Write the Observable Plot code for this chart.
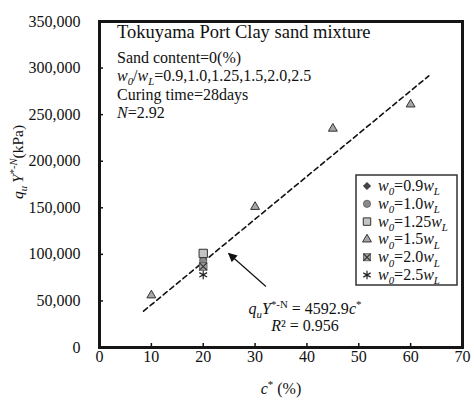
<!DOCTYPE html>
<html>
<head>
<meta charset="utf-8">
<script src="https://cdn.jsdelivr.net/npm/d3@7"></script>
<script src="https://cdn.jsdelivr.net/npm/@observablehq/plot@0.6"></script>
<style>
  html, body { margin: 0; padding: 0; background: #fff; }
  #chart svg { display: block; }
  #chart svg text { font-family: "Liberation Serif", "Times New Roman", serif; }
</style>
</head>
<body>
<div id="chart"></div>
<script>
// ---- data ----
const xTicks = [0, 10, 20, 30, 40, 50, 60, 70];
const yTicks = [0, 50000, 100000, 150000, 200000, 250000, 300000, 350000];

const seriesLabels = ["0.9", "1.0", "1.25", "1.5", "2.0", "2.5"];
const c09 = [20],  q09 = [95000];
const c10 = [20],  q10 = [93000];
const c125 = [20], q125 = [101000];
const c15 = [10, 30, 45, 60], q15 = [56000, 151000, 235000, 261000];
const c20 = [20],  q20 = [87000];
const c25 = [20],  q25 = [78000];

const fitSlope = 4592.9;          // q_u Y*-N = 4592.9 c*
const fitRange = [8.5, 63.5];     // extent of the dashed fit line (c*)
const arrowFrom = [32.1, 65500];
const arrowTo = [24.9, 101000];

const FONT = "'Liberation Serif', 'Times New Roman', serif";

// ---- build tables ----
const pts = (xs, ys) => xs.map((x, i) => ({x, y: ys[i]}));
const fitLine = fitRange.map(x => ({x, y: fitSlope * x}));

const W = 474, H = 401;
const mL = 99, mR = 12, mT = 21, mB = 54;
const pxX = (W - mL - mR) / (xTicks[xTicks.length - 1] - xTicks[0]);
const pxY = (H - mT - mB) / (yTicks[yTicks.length - 1] - yTicks[0]);
const tickLen = 4;

const chart = Plot.plot({
  width: W, height: H,
  marginLeft: mL, marginRight: mR, marginTop: mT, marginBottom: mB,
  x: {domain: [0, 70]},
  y: {domain: [0, 350000]},
  style: `font-family: ${FONT}; font-size: 16px; background: #fff; color: #111;`,
  marks: [
    Plot.axisX(xTicks, {tickSize: 0, tickPadding: 3, label: null, fontSize: 16, fontFamily: FONT, fill: "#111"}),
    Plot.axisY(yTicks, {tickSize: 0, tickPadding: 19, label: null, fontSize: 16, fontFamily: FONT, fill: "#111", tickFormat: d3.format(",")}),
    Plot.ruleX(xTicks.slice(1, -1), {x: d => d, y1: 0, y2: tickLen / pxY, stroke: "#111", strokeWidth: 1.5}),
    Plot.ruleY(yTicks.slice(1, -1), {y: d => d, x1: 0, x2: tickLen / pxX, stroke: "#111", strokeWidth: 1.5}),
    Plot.line(fitLine, {x: "x", y: "y", stroke: "#111", strokeWidth: 1.6, strokeDasharray: "5,3.5"}),
    Plot.link([{x1: arrowFrom[0], y1: arrowFrom[1], x2: arrowTo[0], y2: arrowTo[1]}],
      {x1: "x1", y1: "y1", x2: "x2", y2: "y2", stroke: "#111", strokeWidth: 1.2, ariaLabel: "annot-arrow"}),
    Plot.dot(pts(c09, q09), {x: "x", y: "y", symbol: "diamond2", r: 3.2, fill: "#444", stroke: "#222", strokeWidth: 0.8}),
    Plot.dot(pts(c10, q10), {x: "x", y: "y", symbol: "circle", r: 3.6, fill: "#8a8a8a", stroke: "#555", strokeWidth: 0.8}),
    Plot.dot(pts(c125, q125), {x: "x", y: "y", symbol: "square", r: 4.7, fill: "#c4c4c4", stroke: "#333", strokeWidth: 1}),
    Plot.dot(pts(c15, q15), {x: "x", y: "y", symbol: "triangle", r: 3.3, fill: "#a6a6a6", stroke: "#333", strokeWidth: 1}),
    Plot.dot(pts(c20, q20), {x: "x", y: "y", symbol: "square", r: 4.3, fill: "#a0a0a0", stroke: "#555", strokeWidth: 0.8}),
    Plot.dot(pts(c20, q20), {x: "x", y: "y", symbol: "times", r: 3.6, stroke: "#333", strokeWidth: 1.2}),
    Plot.dot(pts(c25, q25), {x: "x", y: "y", symbol: "asterisk", r: 4.2, stroke: "#222", strokeWidth: 1.2}),
    Plot.frame({stroke: "#151515", strokeWidth: 3})
  ]
});
document.getElementById("chart").appendChild(chart);

const svg = d3.select(chart);
svg.attr("font-family", FONT);

// filled arrowhead on the annotation arrow
const defs = svg.append("defs");
defs.append("marker").attr("id", "ahead").attr("viewBox", "0 0 10 10")
  .attr("refX", 9).attr("refY", 5).attr("markerWidth", 10).attr("markerHeight", 9)
  .attr("markerUnits", "userSpaceOnUse").attr("orient", "auto")
  .append("path").attr("d", "M0,0L10,5L0,10Z").attr("fill", "#111");
svg.selectAll("g[aria-label='annot-arrow'] path, g[aria-label='link'] path").attr("marker-end", "url(#ahead)");

// rich text helper
function rich(x, y, parts, {size = 16, anchor = "start", rotate = 0} = {}) {
  const t = svg.append("text").attr("font-family", FONT).attr("font-size", size)
    .attr("text-anchor", anchor).attr("fill", "#111");
  if (rotate) t.attr("transform", `translate(${x},${y}) rotate(${rotate})`);
  else t.attr("x", x).attr("y", y);
  let shift = 0;
  for (const [txt, f = ""] of parts) {
    const s = t.append("tspan").text(txt);
    const flags = f.split(" ");
    let target = 0, fs = size;
    if (flags.includes("sub")) { target = size * 0.28; fs = size * 0.68; }
    if (flags.includes("sup")) { target = -size * 0.38; fs = size * 0.68; }
    if (flags.includes("i")) s.attr("font-style", "italic");
    s.attr("font-size", fs);
    if (target !== shift) { s.attr("dy", target - shift); shift = target; }
  }
  return t;
}

// title block
rich(117, 38, [["Tokuyama Port Clay sand mixture"]], {size: 18.5});
rich(117, 62.5, [["Sand content=0(%)"]]);
rich(117, 81, [["w", "i"], ["0", "i sub"], ["/"], ["w", "i"], ["L", "i sub"], ["=0.9,1.0,1.25,1.5,2.0,2.5"]]);
rich(117, 99.5, [["Curing time=28days"]]);
rich(117, 118, [["N", "i"], ["=2.92"]]);

// axis titles
rich(281, 394, [["c", "i"], ["*", "sup"], [" (%)"]], {anchor: "middle"});
rich(23, 162, [["q", "i"], ["u", "i sub"], ["\u2009"], ["Y", "i"], ["*-", "sup"], ["N", "i sup"], ["(kPa)"]], {anchor: "middle", rotate: -90, size: 15.5});

// equation
rich(305, 314, [["q", "i"], ["u", "i sub"], ["Y", "i"], ["*-N", "sup"], [" = 4592.9"], ["c", "i"], ["*", "sup"]], {anchor: "middle"});
rich(305, 331, [["R", "i"], ["\u00b2 = 0.956"]], {anchor: "middle"});

// legend
const lg = {x: 356, y: 175, w: 101, h: 110, row: 17.8, first: 186};
svg.append("rect").attr("x", lg.x).attr("y", lg.y).attr("width", lg.w).attr("height", lg.h)
  .attr("fill", "#fff").attr("stroke", "#333").attr("stroke-width", 1.5);
const legendSyms = [
  [{type: d3.symbolDiamond2, r: 3.2, fill: "#444", stroke: "#222", sw: 0.8}],
  [{type: d3.symbolCircle, r: 3.6, fill: "#8a8a8a", stroke: "#555", sw: 0.8}],
  [{type: d3.symbolSquare, r: 4.2, fill: "#c4c4c4", stroke: "#333", sw: 1}],
  [{type: d3.symbolTriangle, r: 3.3, fill: "#a6a6a6", stroke: "#333", sw: 1}],
  [{type: d3.symbolSquare, r: 4.0, fill: "#a0a0a0", stroke: "#555", sw: 0.8},
   {type: d3.symbolTimes, r: 3.4, fill: "none", stroke: "#333", sw: 1.2}],
  [{type: d3.symbolAsterisk, r: 4.0, fill: "none", stroke: "#222", sw: 1.2}]
];
seriesLabels.forEach((lab, i) => {
  const cy = lg.first + i * lg.row;
  for (const s of legendSyms[i]) {
    svg.append("path").attr("transform", `translate(${lg.x + 11},${cy})`)
      .attr("d", d3.symbol(s.type, Math.PI * s.r * s.r)())
      .attr("fill", s.fill).attr("stroke", s.stroke).attr("stroke-width", s.sw);
  }
  rich(lg.x + 22, cy + 5, [["w", "i"], ["0", "i sub"], ["=" + lab], ["w", "i"], ["L", "i sub"]]);
});

// make sure every text (including Plot's tick labels) uses the serif face
svg.selectAll("text, tspan").style("font-family", FONT);
</script>
</body>
</html>
